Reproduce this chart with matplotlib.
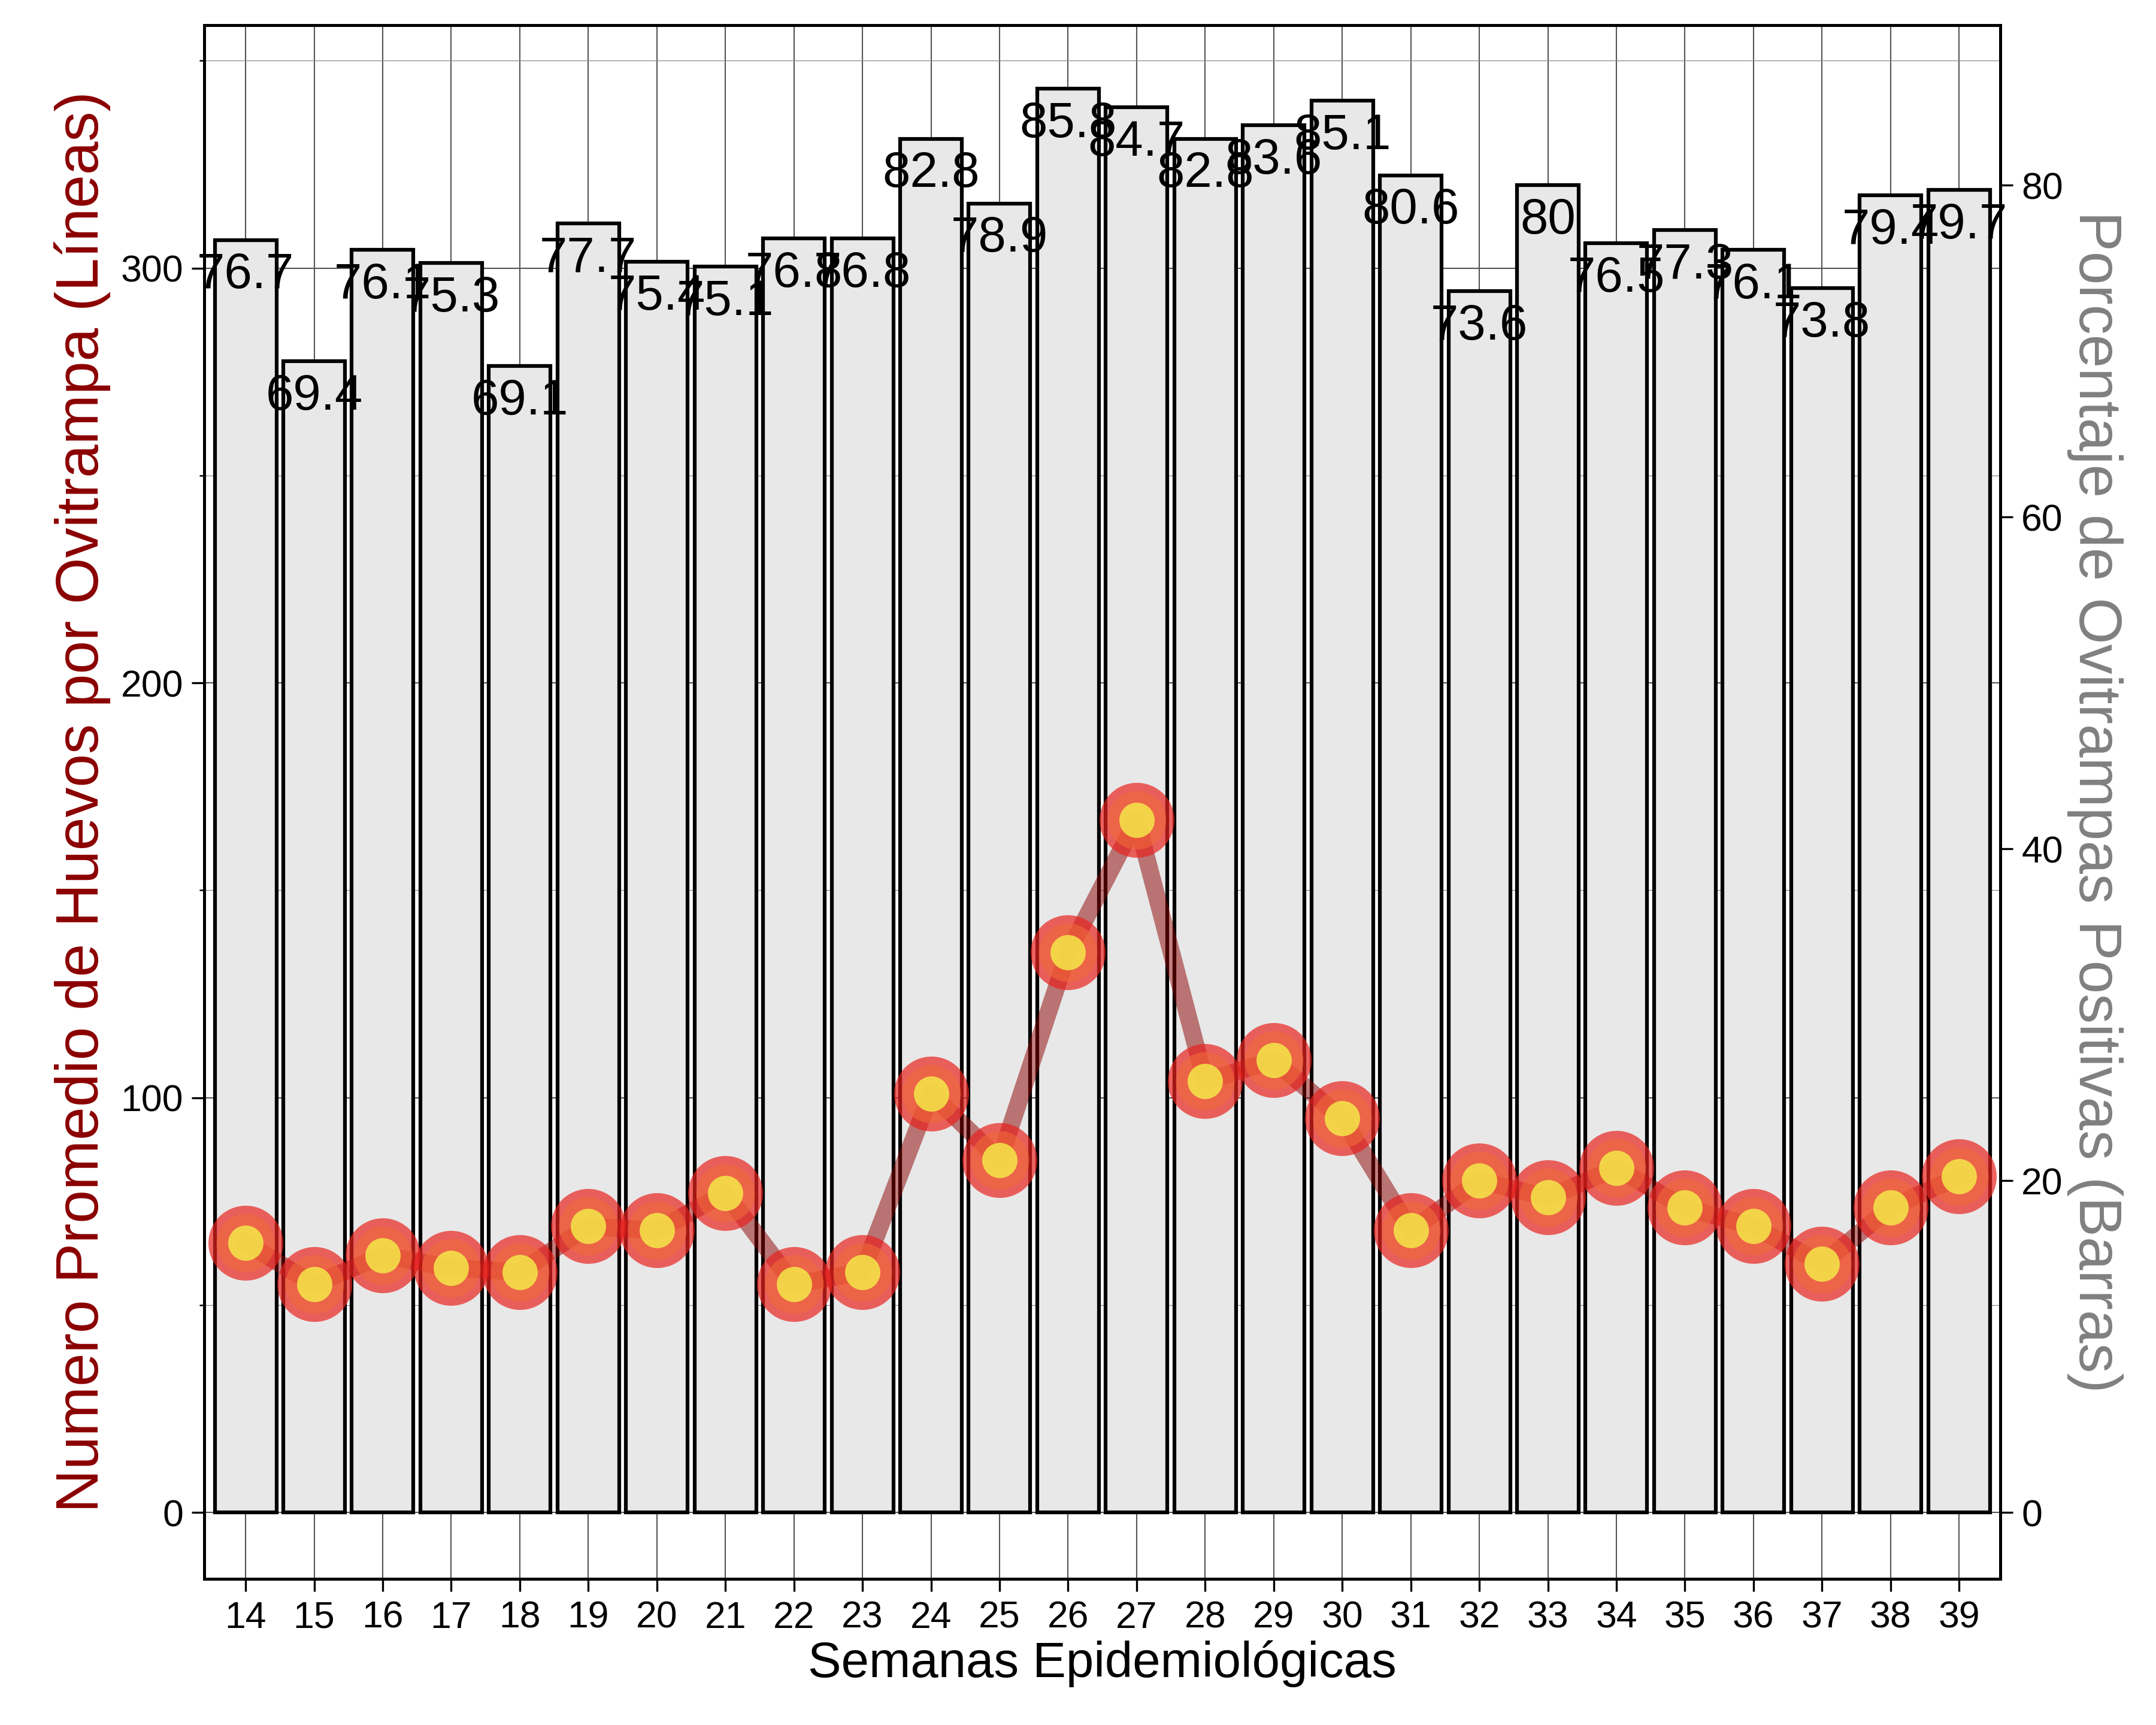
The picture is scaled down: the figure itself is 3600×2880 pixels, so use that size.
import numpy as np
import matplotlib
matplotlib.use("Agg")
import matplotlib.pyplot as plt
from matplotlib.ticker import MultipleLocator

plt.rcParams["font.family"] = ["Liberation Sans", "DejaVu Sans"]

weeks = list(range(14, 40))
pct_pos = [76.7, 69.4, 76.1, 75.3, 69.1, 77.7, 75.4, 75.1, 76.8, 76.8, 82.8, 78.9, 85.8,
           84.7, 82.8, 83.6, 85.1, 80.6, 73.6, 80, 76.5, 77.3, 76.1, 73.8, 79.4, 79.7]
huevos = [65, 55, 62, 59, 58, 69, 68, 77, 55, 58, 101, 85, 135,
          167, 104, 109, 95, 68, 80, 76, 83, 73.5, 69, 60, 73.5, 81]
SCALE = 4  # right axis = left / 4

fig = plt.figure(figsize=(12, 9.6), dpi=300)
ax = fig.add_axes([147/1550, 1 - 1135/1240, (1438-147)/1550, (1135-18)/1240])

x = np.array(weeks)
bar_h = np.array(pct_pos) * SCALE
ax.bar(x, bar_h, width=0.9, color="#e8e8e8", edgecolor="black", linewidth=1.5, zorder=2)
for xi, h, v in zip(x, bar_h, pct_pos):
    ax.text(xi, h - 8.5, f"{v:g}", ha="center", va="center", fontsize=20, zorder=5)

ax.plot(x, huevos, color="#8B0000", alpha=0.5, linewidth=7, zorder=3)
ax.scatter(x, huevos, s=900, color="#e8231f", alpha=0.7, zorder=4, linewidths=0)
ax.scatter(x, huevos, s=550, color="#f06a3a", alpha=0.6, zorder=4, linewidths=0)
ax.scatter(x, huevos, s=200, color="#f5e84a", alpha=0.85, zorder=4, linewidths=0)

ax.set_xlim(13.4, 39.6)
ax.set_ylim(-16, 358.6)
ax.set_xticks(weeks)
ax.yaxis.set_major_locator(MultipleLocator(100))
ax.yaxis.set_minor_locator(MultipleLocator(50))
ax.grid(which="major", color="#555555", linewidth=0.5, zorder=0)
ax.grid(which="minor", axis="y", color="#888888", linewidth=0.3, zorder=0)
ax.set_axisbelow(True)
for s in ax.spines.values():
    s.set_linewidth(1.2)
ax.tick_params(labelsize=15, length=5)
ax.set_xlabel("Semanas Epidemiológicas", fontsize=20, labelpad=2)
ax.set_ylabel("Numero Promedio de Huevos por Ovitrampa (Líneas)", fontsize=24,
              color="#8B0000", labelpad=4)

ax2 = ax.secondary_yaxis("right", functions=(lambda v: v / SCALE, lambda v: v * SCALE))
ax2.yaxis.set_major_locator(MultipleLocator(20))
ax2.tick_params(labelsize=15, length=5)
ax2.set_ylabel("Porcentaje de Ovitrampas Positivas (Barras)", fontsize=24, color="#808080",
               rotation=270, labelpad=24)

fig.savefig("out.png")
